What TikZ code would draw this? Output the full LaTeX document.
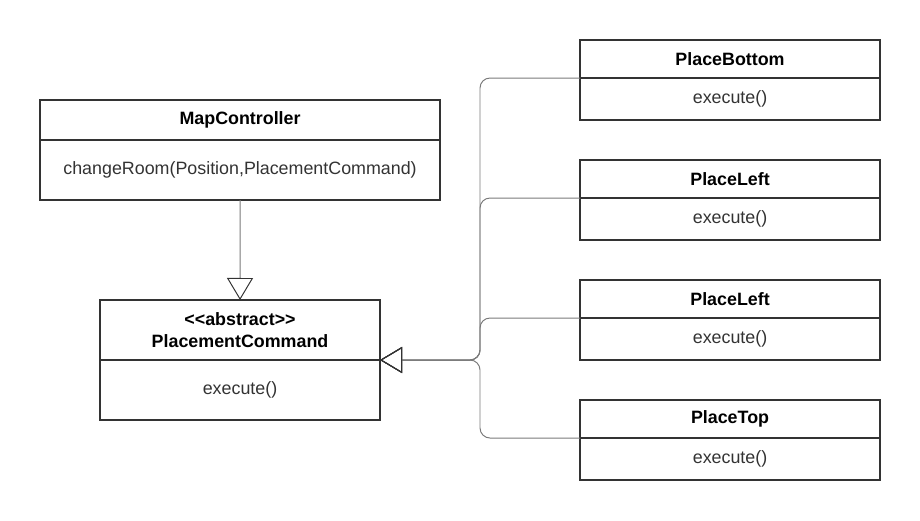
\documentclass[tikz,border=0pt]{standalone}
\usepackage{fontspec}
\setmainfont{Liberation Sans}
\usetikzlibrary{arrows.meta,positioning}
\definecolor{boxline}{HTML}{333333}
\definecolor{edgeline}{HTML}{7A7A7A}

\begin{document}
\begin{tikzpicture}[x=0.025cm, y=-0.025cm,
  every node/.style = {
    inner sep = 0,
    outer sep = 0,
    font = \fontsize{12.7}{15.5}\selectfont,
  },
  head/.style = {
    draw = boxline,
    line width = 1.4pt,
    align = center,
    anchor = north west,
    font = \fontsize{12.7}{15.5}\selectfont\bfseries,
  },
  body/.style = {
    draw = boxline,
    line width = 1.4pt,
    text = black!80,
  },
  inherit/.style = {
    draw = edgeline,
    line width = 0.7pt,
    rounded corners = 0.25cm,
    -{Triangle[open, length=0.55cm, width=0.65cm, color=boxline]},
  },
]
\useasboundingbox (0,0) rectangle (920,520);

% classes
\node[head, minimum width=10cm, minimum height=1cm] (mc) at (40,100) {MapController};
\node[body, minimum width=10cm, minimum height=1.5cm, below=0pt of mc] (mcb) {changeRoom(Position,PlacementCommand)};

\node[head, minimum width=7cm, minimum height=1.5cm] (pc) at (100,300)
  {<\kern0pt<abstract>\kern0pt>\\PlacementCommand};
\node[body, minimum width=7cm, minimum height=1.5cm, below=0pt of pc] (pcb) {execute()};

\node[head, minimum width=7.5cm, minimum height=0.95cm] (pb) at (580,40) {PlaceBottom};
\node[body, minimum width=7.5cm, minimum height=1.05cm, below=0pt of pb] (pbb) {execute()};

\node[head, minimum width=7.5cm, minimum height=0.95cm] (pl) at (580,160) {PlaceLeft};
\node[body, minimum width=7.5cm, minimum height=1.05cm, below=0pt of pl] (plb) {execute()};

\node[head, minimum width=7.5cm, minimum height=0.95cm] (pr) at (580,280) {PlaceLeft};
\node[body, minimum width=7.5cm, minimum height=1.05cm, below=0pt of pr] (prb) {execute()};

\node[head, minimum width=7.5cm, minimum height=0.95cm] (pt) at (580,400) {PlaceTop};
\node[body, minimum width=7.5cm, minimum height=1.05cm, below=0pt of pt] (ptb) {execute()};

% connectors
\coordinate (bus) at (480,360);
\draw[inherit] (mcb.south) -- (pc.north);
\foreach \c in {pb,pl,pr,pt}
  \draw[inherit] (\c.south west) -| (bus) -- (pc.south east);
\end{tikzpicture}
\end{document}
